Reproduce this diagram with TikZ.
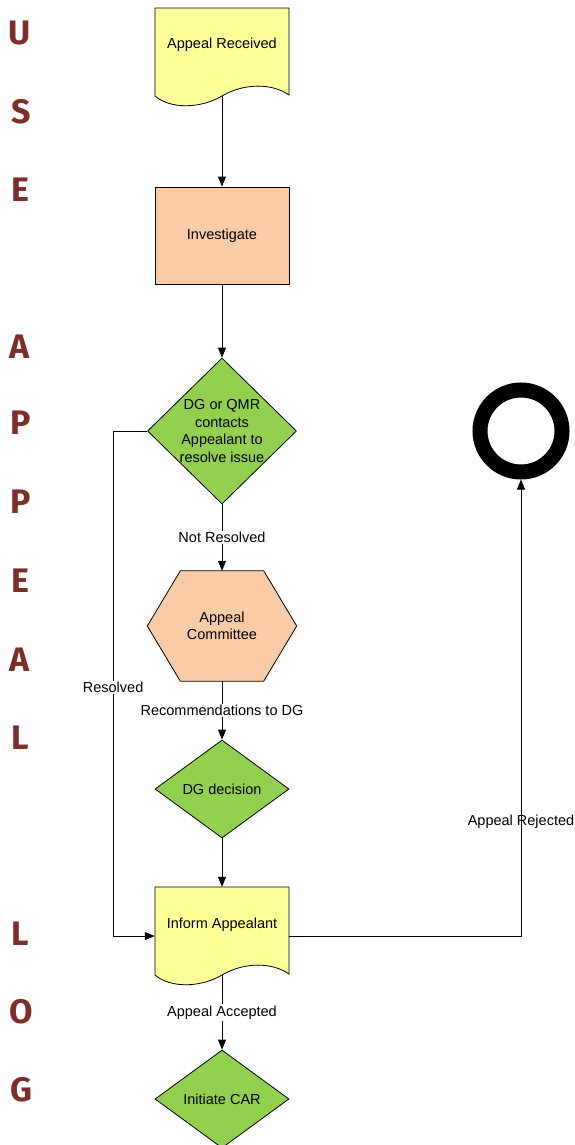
\documentclass[tikz,border=0pt]{standalone}
\usepackage{fontspec}
\setmainfont{Liberation Sans}
\newfontfamily\letterfont{Fira Sans}
\usetikzlibrary{arrows.meta,shapes.geometric,backgrounds}
\definecolor{docyellow}{HTML}{FFFF99}
\definecolor{peach}{HTML}{F9CBA6}
\definecolor{leaf}{HTML}{92D050}
\definecolor{brick}{HTML}{7B2E2A}
\begin{document}
\begin{tikzpicture}[x=1pt,y=-1pt,
 txt/.style={font=\fontsize{14.5}{17.5}\selectfont, align=center, inner sep=0pt},
 shp/.style={draw=black, line width=0.8pt},
 dia/.style={shp, diamond, fill=leaf, inner sep=0pt, aspect=1},
 conn/.style={draw, line width=0.8pt, -{Triangle[length=10pt,width=8pt]}},
 lab/.style={txt, fill=white, inner sep=1.5pt},
 letter/.style={font=\letterfont\bfseries\fontsize{34}{34}\selectfont, text=brick, inner sep=0pt}
]
\useasboundingbox (0,0) rectangle (575,1145);

% letters
\node[letter] (lU) at (20,33) {U};
\node[letter] (lS) at (21,112) {S};
\node[letter] (lE) at (20,190) {E};
\node[letter] (lA) at (20,347) {A};
\node[letter] (lP) at (21,423) {P};
\node[letter] (lP2) at (21,502) {P};
\node[letter] (lE2) at (20,581) {E};
\node[letter] (lA2) at (20,660) {A};
\node[letter] (lL) at (20,738) {L};
\node[letter] (lL2) at (20,934) {L};
\node[letter] (lO) at (21,1012) {O};
\node[letter] (lG) at (21,1090) {G};

% nodes
\node[txt] (recv) at (222,45) {Appeal Received};
\coordinate (recvb) at (222,96);
\node[shp, txt, fill=peach, minimum width=134pt, minimum height=97pt] (inv) at (222,235.5) {Investigate};
\node[dia, minimum width=149pt, minimum height=146pt,
  label={[txt]center:{DG or QMR\\contacts\\Appealant to\\resolve issue}}] (d1) at (222,431) {};
\node[txt, minimum width=149pt, minimum height=110pt] (hex) at (222,626) {Appeal\\Committee};
\node[dia, minimum width=134pt, minimum height=98pt,
  label={[txt]center:{DG decision}}] (dg) at (222,789) {};
\node[minimum width=134pt, minimum height=98pt, inner sep=0pt,
  label={[txt,yshift=11pt]center:{Inform Appealant}}] (inf) at (222,936) {};
\coordinate (infb) at (222,975);
\node[dia, minimum width=134pt, minimum height=98pt,
  label={[txt]center:{Initiate CAR}}] (ic) at (222,1099) {};
\node[circle, draw=black, line width=15pt, minimum size=82pt, inner sep=0pt] (end) at (521,431) {};

% background shapes
\begin{scope}[on background layer]
\path[shp, fill=docyellow] (155,8) -- (289,8) -- (289,95)
  .. controls (272,83) and (244,83) .. (222,96)
  .. controls (200,109) and (170,109) .. (155,96) -- cycle;
\path[shp, fill=peach] (hex.west) -- ([xshift=33pt]hex.north west) -- ([xshift=-33pt]hex.north east)
  -- (hex.east) -- ([xshift=-33pt]hex.south east) -- ([xshift=33pt]hex.south west) -- cycle;
\path[shp, fill=docyellow] (155,887) -- (289,887) -- (289,974)
  .. controls (272,962) and (244,962) .. (222,975)
  .. controls (200,988) and (170,988) .. (155,975) -- cycle;
\end{scope}

% connectors
\draw[conn] (recvb) -- (inv.north);
\draw[conn] (inv.south) -- (d1.north);
\draw[conn] (d1.south) -- node[lab]{Not Resolved} (hex.north);
\draw[conn] (hex.south) -- node[lab]{Recommendations to DG} (dg.north);
\draw[conn] (dg.south) -- (inf.north);
\draw[conn] (d1.west) -- ++(-34,0) |- node[lab, pos=0.254]{Resolved} (inf.west);
\draw[conn] (inf.east) -| node[txt, pos=0.625]{Appeal Rejected} (end.south);
\draw[conn] (infb) -- node[lab]{Appeal Accepted} (ic.north);
\end{tikzpicture}
\end{document}
